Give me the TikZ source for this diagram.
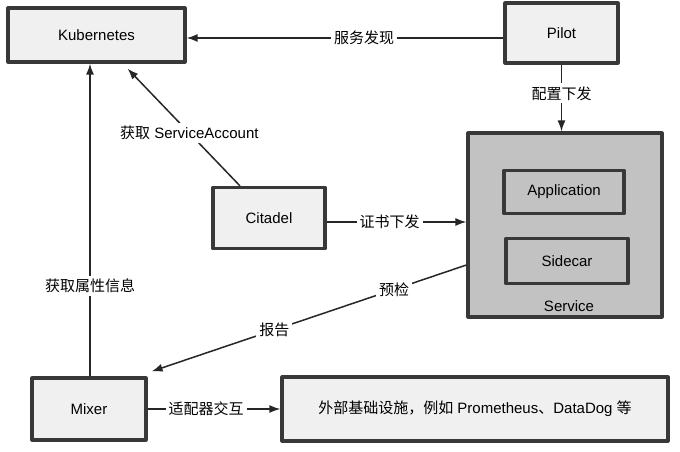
\documentclass[tikz,border=0pt]{standalone}
\usepackage{fontspec}
\setmainfont{Liberation Sans}
\newfontfamily\cjk{Noto Sans CJK SC}
\usetikzlibrary{arrows.meta}
\begin{document}
\begin{tikzpicture}[x=1pt,y=-1pt,
  every node/.style={font=\fontsize{15}{17}\selectfont},
  box/.style={draw=black!78, line width=3.2pt, fill=black!6, inner sep=0pt, line join=round},
  gbox/.style={box, fill=black!24},
  lab/.style={fill=white, inner sep=3pt},
  arr/.style={line width=1.5pt, draw=black!85, -{Latex[length=11pt,width=8pt]}},
  ln/.style={line width=1.5pt, draw=black!85}]
\useasboundingbox (0,0) rectangle (680,451);
% boxes
\node[box, minimum width=177pt, minimum height=54pt] (k) at (96.5,35) {Kubernetes};
\node[box, minimum width=113pt, minimum height=60pt] (p) at (561.5,33) {Pilot};
\node[gbox, minimum width=194pt, minimum height=184pt] (s) at (565,225) {};
\node[anchor=base] (sl) at (569,311) {Service};
\node[gbox, minimum width=120pt, minimum height=43pt] (a) at (564,192) {Application};
\node[gbox, minimum width=122pt, minimum height=45pt] (sc) at (567,261) {Sidecar};
\node[box, minimum width=112pt, minimum height=61pt] (c) at (269,218) {Citadel};
\node[box, minimum width=114pt, minimum height=62pt] (m) at (89,409) {Mixer};
\node[box, minimum width=386pt, minimum height=64pt] (e) at (475,409) {{\cjk 外部基础设施，例如} Prometheus{\cjk 、}DataDog {\cjk 等}};
% connectors
\coordinate (pw) at ([yshift=-5pt]p.west);
\draw[arr] (pw) -- node[lab, pos=0.44] {\cjk 服务发现} (k.east |- pw);
\draw[arr] (p.south) -- node[lab, pos=0.43] {\cjk 配置下发} (p.south |- s.north);
\coordinate (cn) at ([xshift=-29pt]c.north);
\coordinate (ks) at ([xshift=31pt,yshift=-5pt]k.south);
\draw[arr] (cn) -- node[lab, pos=0.45] {{\cjk 获取} ServiceAccount} (ks);
\coordinate (ce) at ([yshift=-4pt]c.east);
\draw[arr] (ce) -- node[lab, pos=0.45] {\cjk 证书下发} (s.west |- ce);
\coordinate (sw) at ([yshift=-40pt]s.west);
\coordinate (mne) at ([xshift=4pt,yshift=5pt]m.north east);
\draw[arr] (sw) -- node[lab, pos=0.23] {\cjk 预检} node[lab, pos=0.61] {\cjk 报告} (mne);
\coordinate (mn) at ([xshift=1pt]m.north);
\draw[arr] (mn) -- node[lab, pos=0.29] {\cjk 获取属性信息} (mn |- k.south);
\draw[arr] (m.east) -- node[lab, pos=0.44] {\cjk 适配器交互} (e.west);
\end{tikzpicture}
\end{document}
